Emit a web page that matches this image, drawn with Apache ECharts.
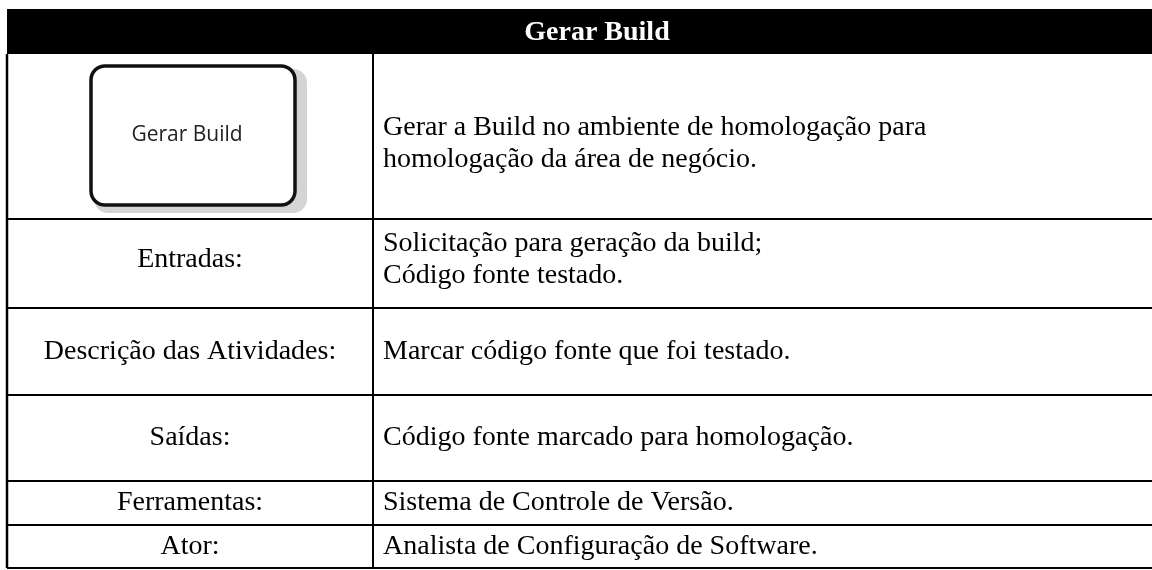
<!DOCTYPE html>
<html><head><meta charset="utf-8">
<script src="https://cdn.jsdelivr.net/npm/echarts@6/dist/echarts.min.js"></script>
<style>html,body{margin:0;padding:0;background:#fff}#c{width:1152px;height:570px}</style>
</head><body><div id="c"></div>
<script>
// ---- content ----
const title = 'Gerar Build';
const boxLabel = 'Gerar Build';
const rowLabels = ['', 'Entradas:', 'Descrição das Atividades:', 'Saídas:', 'Ferramentas:', 'Ator:'];
const rowTexts = [
  ['Gerar a Build no ambiente de homologação para', 'homologação da área de negócio.'],
  ['Solicitação para geração da build;', 'Código fonte testado.'],
  ['Marcar código fonte que foi testado.'],
  ['Código fonte marcado para homologação.'],
  ['Sistema de Controle de Versão.'],
  ['Analista de Configuração de Software.']
];

// ---- layout (separate from content) ----
const L = {
  left: 7, right: 1160, split: 373, top: 9, headerBottom: 54,
  rowBottoms: [219, 308, 395, 481, 525, 568],
  rowShift: [7, -4, 0, 0, 0, 0],
  lineH: 32, textX: 383, font: '28px "Liberation Serif"',
  box: {x: 91, y: 66, w: 204, h: 139, r: 14}
};

const els = [];
// header
els.push({type: 'rect', shape: {x: L.left, y: L.top, width: L.right - L.left, height: L.headerBottom - L.top}, style: {fill: '#000'}});
els.push({type: 'text', style: {text: title, x: 597, y: (L.top + L.headerBottom) / 2 + 1, fill: '#fff',
  font: 'bold 28px "Liberation Serif"', align: 'center', verticalAlign: 'middle'}});

// rows
let prev = L.headerBottom;
L.rowBottoms.forEach((b, i) => {
  const mid = (prev + b) / 2 + L.rowShift[i];
  els.push({type: 'line', shape: {x1: L.left, y1: b, x2: L.right, y2: b}, style: {stroke: '#000', lineWidth: 2}});
  els.push({type: 'line', shape: {x1: L.left, y1: prev, x2: L.left, y2: b}, style: {stroke: '#000', lineWidth: 2.5}});
  els.push({type: 'line', shape: {x1: L.split, y1: prev, x2: L.split, y2: b}, style: {stroke: '#000', lineWidth: 2}});
  if (rowLabels[i]) {
    els.push({type: 'text', style: {text: rowLabels[i], x: (L.left + L.split) / 2, y: mid, fill: '#000',
      font: L.font, align: 'center', verticalAlign: 'middle'}});
  }
  const lines = rowTexts[i];
  const start = mid - (lines.length - 1) * L.lineH / 2;
  lines.forEach((t, k) => {
    els.push({type: 'text', style: {text: t, x: L.textX, y: start + k * L.lineH, fill: '#000',
      font: L.font, align: 'left', verticalAlign: 'middle'}});
  });
  prev = b;
});

// activity box
const B = L.box;
els.push({type: 'rect', shape: {x: B.x + 3, y: B.y + 3, width: B.w + 9, height: B.h + 5, r: B.r},
  style: {fill: '#d4d4d4'}});
els.push({type: 'rect', shape: {x: B.x, y: B.y, width: B.w, height: B.h, r: B.r},
  style: {fill: '#fff', stroke: '#111', lineWidth: 3.5}});
els.push({type: 'text', style: {text: boxLabel, x: B.x + B.w / 2 - 6, y: B.y + B.h / 2, fill: '#222',
  font: '21px "Open Sans"', align: 'center', verticalAlign: 'middle'}});

const chart = echarts.init(document.getElementById('c'), null, {renderer: 'canvas'});
chart.setOption({animation: false, backgroundColor: '#fff', graphic: {elements: els}});
</script></body></html>
